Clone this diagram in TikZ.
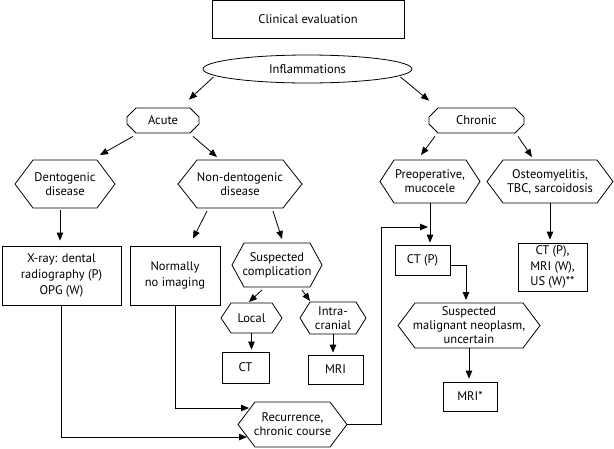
\documentclass[tikz,border=0pt]{standalone}
\usepackage{fontspec}
\setmainfont{PT Sans}
\usetikzlibrary{shapes.geometric,shapes.misc,arrows.meta}

% hexagon outline round a (plain) node: #1 node name, #2 width of the point
\newcommand\hexframe[2]{%
    \draw[line width=0.8pt] ([xshift=#2pt]#1.north west) -- ([xshift=-#2pt]#1.north east)
        -- (#1.east) -- ([xshift=-#2pt]#1.south east) -- ([xshift=#2pt]#1.south west)
        -- (#1.west) -- cycle;}

\begin{document}
\begin{tikzpicture}[x=1pt,y=-1pt,
        font=\fontsize{12.5}{14}\selectfont,
        every node/.style={line width=0.8pt, align=center, inner sep=0pt},
        box/.style={draw, rectangle, font=\fontsize{12.5}{15.8}\selectfont},
        hexa/.style={rectangle, outer sep=0pt},
        octa/.style={draw, chamfered rectangle, chamfered rectangle xsep=3pt,
            chamfered rectangle ysep=6pt, minimum height=25pt},
        arr/.style={-{Triangle[length=8pt,width=6.5pt]}, line width=0.8pt}]

        \useasboundingbox (0,0) rectangle (614,448);

        % top
        \node[box, minimum width=192pt, minimum height=38pt] (eval) at (308,19) {Clinical evaluation};
        \node[draw, ellipse, minimum width=209pt, minimum height=28pt] (infl) at (307.5,69) {Inflammations};
        \node[octa, minimum width=72pt] (acute) at (163,120.5) {Acute};
        \node[octa, minimum width=95pt] (chronic) at (476.5,120.5) {Chronic};

        % acute branch
        \node[hexa, minimum width=100pt, minimum height=48pt] (dento) at (65,184) {Dentogenic\\disease};
        \node[hexa, minimum width=124pt, minimum height=48pt] (nondento) at (240,184) {Non-dentogenic\\disease};
        \node[box, minimum width=119pt, minimum height=59pt] (xray) at (61.5,275.5) {X-ray: dental\\radiography (P)\\OPG (W)};
        \node[box, minimum width=90pt, minimum height=59pt] (noimg) at (175,275.5) {Normally\\no imaging};
        \node[hexa, minimum width=90pt, minimum height=44pt] (suscomp) at (277,265) {Suspected\\complication};
        \node[hexa, minimum width=61pt, minimum height=30pt] (local) at (251.5,318) {Local};
        \node[hexa, minimum width=66pt, minimum height=32pt] (intra) at (333,318) {Intra-\\cranial};
        \node[box, minimum width=47pt, minimum height=31pt] (ct) at (245.5,367.5) {CT};
        \node[box, minimum width=55pt, minimum height=29pt] (mri) at (335.5,369.5) {MRI};
        \node[hexa, minimum width=109pt, minimum height=45pt] (recur) at (292.5,424.5) {Recurrence,\\chronic course};

        % chronic branch
        \node[hexa, minimum width=100pt, minimum height=43pt] (preop) at (430,181.5) {Preoperative,\\mucocele};
        \node[hexa, minimum width=126pt, minimum height=43pt] (osteo) at (550,181.5) {Osteomyelitis,\\TBC, sarcoidosis};
        \node[box, minimum width=55pt, minimum height=30pt] (ctp) at (422.5,260) {CT (P)};
        \node[hexa, minimum width=142pt, minimum height=45pt] (malig) at (469,325.5) {Suspected\\malignant neoplasm,\\uncertain};
        \node[box, minimum width=54pt, minimum height=29pt] (mristar) at (470,396.5) {MRI*};
        \node[box, minimum width=69pt, minimum height=48pt] (ctmri) at (552.5,267) {CT (P),\\MRI (W),\\US (W)**};

        \hexframe{dento}{18}
        \hexframe{nondento}{19}
        \hexframe{suscomp}{12}
        \hexframe{local}{10}
        \hexframe{intra}{10}
        \hexframe{recur}{17}
        \hexframe{preop}{14}
        \hexframe{osteo}{16}
        \hexframe{malig}{17}

        % connectors
        \draw[arr] ([shift={(-94,8)}]infl.center) -- ([shift={(26,-8)}]acute.north);
        \draw[arr] ([shift={(93,8)}]infl.center) -- ([shift={(-47.5,-7)}]chronic.north);
        \draw[arr] ([shift={(-30,3)}]acute.south) -- ([shift={(35,-5)}]dento.north);
        \draw[arr] ([shift={(30,3)}]acute.south) -- ([shift={(-23,-3)}]nondento.north);
        \draw[arr] ([shift={(-41.5,3)}]chronic.south) -- ([shift={(-9,-5)}]preop.north);
        \draw[arr] ([shift={(41.5,3)}]chronic.south) -- ([shift={(-18,-3)}]osteo.north);
        \draw[arr] ([shift={(-5,2)}]dento.south) -- ([shift={(-1.5,-5)}]xray.north);
        \draw[arr] ([shift={(-33,3)}]nondento.south) -- ([shift={(18,-7)}]noimg.north);
        \draw[arr] ([shift={(33,3)}]nondento.south) -- ([shift={(5,-4)}]suscomp.north);
        \draw[arr] ([shift={(-15,3)}]suscomp.south) -- ([shift={(-2.5,-1)}]local.north);
        \draw[arr] ([shift={(25,3)}]suscomp.south) -- ([shift={(-23,-1)}]intra.north);
        \draw[arr] (local.south) -- ([yshift=2pt]local.south |- ct.north);
        \draw[arr] (intra.south) -- ([yshift=2pt]intra.south |- mri.north);
        \draw[arr] (xray.south) |- ([shift={(9,12.5)}]recur.west);
        \draw[arr] (noimg.south) |- ([shift={(11,-16.5)}]recur.west);
        \draw[arr] (recur.east) -- ++(34,0) |- ([shift={(-2,24)}]preop.south);
        \draw[arr] (preop.south) -- ([yshift=2pt]preop.south |- ctp.north);
        \draw[arr] ([yshift=-5pt]ctp.east) -| ([shift={(-3,-3)}]malig.north);
        \draw[arr] (malig.south) -- ([yshift=3pt]malig.south |- mristar.north);
        \draw[arr] (osteo.south) -- ([yshift=3pt]osteo.south |- ctmri.north);

\end{tikzpicture}
\end{document}
